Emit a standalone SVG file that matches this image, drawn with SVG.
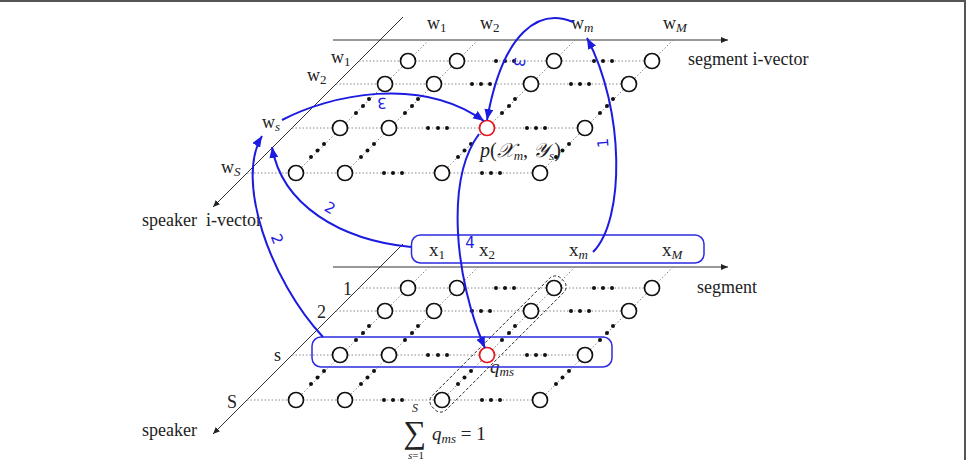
<svg xmlns="http://www.w3.org/2000/svg" xmlns:xlink="http://www.w3.org/1999/xlink" width="966" height="460" viewBox="0 0 966 460">
<style>
.ax{stroke:#333;stroke-width:1;fill:none}
.dl{stroke:#888;stroke-width:1;stroke-dasharray:1.5 2;fill:none}
.nd{fill:#fff;stroke:#111;stroke-width:1.7}
.rd{fill:#fff;stroke:#e8141c;stroke-width:1.7}
.dt{fill:#111}
.bl{stroke:#1c1ce0;stroke-width:2;fill:none;marker-end:url(#ba)}
.bx{stroke:#2b2be0;stroke-width:1.5;fill:none}
.lb{font-family:"Liberation Serif","DejaVu Serif",serif;font-size:18px;fill:#222}
.it{font-style:italic}
.bn{font-family:"DejaVu Sans",sans-serif;font-size:15px;fill:#1c1ce0}
</style>
<defs>
<marker id="ba" markerUnits="userSpaceOnUse" markerWidth="12" markerHeight="10" refX="11" refY="4.5" orient="auto"><path d="M0,0 L11,4.5 L0,9 z" fill="#1c1ce0"/></marker>
<marker id="ka" markerUnits="userSpaceOnUse" markerWidth="8" markerHeight="6" refX="7" refY="3" orient="auto"><path d="M0,0 L7,3 L0,6 z" fill="#222"/></marker>
<g id="grid">
<line class="ax" x1="333" y1="40" x2="728" y2="40" marker-end="url(#ka)"/>
<line class="ax" x1="403" y1="17" x2="213" y2="207" marker-end="url(#ka)"/>
<g class="dl">
<line x1="359" y1="61" x2="652" y2="61"/>
<line x1="336" y1="84" x2="629" y2="84"/>
<line x1="292" y1="128" x2="585" y2="128"/>
<line x1="247" y1="173" x2="540" y2="173"/>
<line x1="429" y1="40" x2="296" y2="173"/>
<line x1="478" y1="40" x2="345" y2="173"/>
<line x1="575" y1="40" x2="442" y2="173"/>
<line x1="673" y1="40" x2="540" y2="173"/>
</g>
<g class="dt">
<circle cx="496" cy="61" r="2"/><circle cx="505" cy="61" r="2"/><circle cx="514" cy="61" r="2"/>
<circle cx="594" cy="61" r="2"/><circle cx="603" cy="61" r="2"/><circle cx="612" cy="61" r="2"/>
<circle cx="472" cy="84" r="2"/><circle cx="481" cy="84" r="2"/><circle cx="490" cy="84" r="2"/>
<circle cx="571" cy="84" r="2"/><circle cx="580" cy="84" r="2"/><circle cx="589" cy="84" r="2"/>
<circle cx="428" cy="128" r="2"/><circle cx="438" cy="128" r="2"/><circle cx="447" cy="128" r="2"/>
<circle cx="527" cy="128" r="2"/><circle cx="536" cy="128" r="2"/><circle cx="545" cy="128" r="2"/>
<circle cx="384" cy="173" r="2"/><circle cx="393" cy="173" r="2"/><circle cx="402" cy="173" r="2"/>
<circle cx="482" cy="173" r="2"/><circle cx="491" cy="173" r="2"/><circle cx="500" cy="173" r="2"/>
<circle cx="369" cy="99" r="2"/><circle cx="363" cy="106" r="2"/><circle cx="356" cy="113" r="2"/>
<circle cx="418" cy="99" r="2"/><circle cx="412" cy="106" r="2"/><circle cx="405" cy="113" r="2"/>
<circle cx="515" cy="99" r="2"/><circle cx="509" cy="106" r="2"/><circle cx="502" cy="113" r="2"/>
<circle cx="613" cy="99" r="2"/><circle cx="607" cy="106" r="2"/><circle cx="600" cy="113" r="2"/>
<circle cx="324" cy="144" r="2"/><circle cx="317.5" cy="150.5" r="2"/><circle cx="311" cy="157" r="2"/>
<circle cx="374" cy="144" r="2"/><circle cx="367.5" cy="150.5" r="2"/><circle cx="361" cy="157" r="2"/>
<circle cx="471" cy="144" r="2"/><circle cx="464.5" cy="150.5" r="2"/><circle cx="458" cy="157" r="2"/>
<circle cx="569" cy="144" r="2"/><circle cx="562.5" cy="150.5" r="2"/><circle cx="556" cy="157" r="2"/>
</g>
<g>
<circle class="nd" cx="408" cy="61" r="7.5"/><circle class="nd" cx="457" cy="61" r="7.5"/><circle class="nd" cx="554" cy="61" r="7.5"/><circle class="nd" cx="652" cy="61" r="7.5"/>
<circle class="nd" cx="385" cy="84" r="7.5"/><circle class="nd" cx="434" cy="84" r="7.5"/><circle class="nd" cx="531" cy="84" r="7.5"/><circle class="nd" cx="629" cy="84" r="7.5"/>
<circle class="nd" cx="340" cy="128" r="7.5"/><circle class="nd" cx="389" cy="128" r="7.5"/><circle class="rd" cx="487" cy="128" r="7.5"/><circle class="nd" cx="585" cy="128" r="7.5"/>
<circle class="nd" cx="296" cy="173" r="7.5"/><circle class="nd" cx="345" cy="173" r="7.5"/><circle class="nd" cx="442" cy="173" r="7.5"/><circle class="nd" cx="540" cy="173" r="7.5"/>
</g>
</g>
</defs>

<line x1="0" y1="1" x2="966" y2="1" stroke="#555" stroke-width="2"/>
<line x1="965" y1="0" x2="965" y2="460" stroke="#555" stroke-width="2"/>

<g id="top-grid"><use xlink:href="#grid" href="#grid"/></g>
<g id="bottom-grid"><use xlink:href="#grid" href="#grid" y="227"/></g>

<g id="top-labels" class="lb">
<text x="427" y="29">w<tspan font-size="13" dy="3">1</tspan></text>
<text x="480" y="29">w<tspan font-size="13" dy="3">2</tspan></text>
<text x="571" y="29">w<tspan font-size="13" dy="3" class="it">m</tspan></text>
<text x="663" y="29">w<tspan font-size="13" dy="3" class="it">M</tspan></text>
<text x="331" y="63">w<tspan font-size="13" dy="3">1</tspan></text>
<text x="307" y="81">w<tspan font-size="13" dy="3">2</tspan></text>
<text x="262" y="128">w<tspan font-size="13" dy="3" class="it">s</tspan></text>
<text x="221" y="173">w<tspan font-size="13" dy="3" class="it">S</tspan></text>
<text x="688" y="65">segment i-vector</text>
<text x="142" y="226" xml:space="preserve">speaker  i-vector</text>
<text x="480" y="157" font-size="20"><tspan class="it">p</tspan>(<tspan class="it">𝒳</tspan><tspan font-size="13" dy="3" class="it">m</tspan><tspan dy="-3">, </tspan><tspan class="it">𝒴</tspan><tspan font-size="13" dy="3" class="it">s</tspan><tspan dy="-3">)</tspan></text>
</g>

<g id="bottom-labels" class="lb">
<text x="343" y="295">1</text>
<text x="317" y="318">2</text>
<text x="274" y="361">s</text>
<text x="227" y="408">S</text>
<text x="697" y="293">segment</text>
<text x="142" y="436">speaker</text>
<text x="429" y="256" font-size="19">x<tspan font-size="13" dy="3">1</tspan></text>
<text x="479" y="256" font-size="19">x<tspan font-size="13" dy="3">2</tspan></text>
<text x="569" y="256" font-size="19">x<tspan font-size="13" dy="3" class="it">m</tspan></text>
<text x="662" y="256" font-size="19">x<tspan font-size="13" dy="3" class="it">M</tspan></text>
<text x="490" y="373" font-size="19" class="it">q<tspan font-size="13" dy="3">ms</tspan></text>
<text x="415" y="443" font-size="32" text-anchor="middle">∑</text>
<text x="415" y="412" font-size="12" text-anchor="middle" class="it">S</text>
<text x="416" y="459" font-size="11" text-anchor="middle"><tspan class="it">s</tspan>=1</text>
<text x="432" y="440" font-size="19"><tspan class="it">q</tspan><tspan font-size="13" dy="3" class="it">ms</tspan><tspan dy="-3"> = 1</tspan></text>
</g>

<g id="box-x"><rect class="bx" x="411.5" y="235" width="292.5" height="28" rx="9"/></g>
<g id="box-s"><rect class="bx" x="312" y="337" width="300" height="30" rx="9"/></g>
<g id="box-qsum"><rect x="-91" y="-10" width="182" height="20" rx="8" fill="none" stroke="#222" stroke-width="0.9" stroke-dasharray="3 2" transform="translate(498,344) rotate(-45)"/></g>

<g id="connectors">
<path class="bl" d="M282,120 C330,95 420,75 484,121"/>
<path class="bl" d="M573,22 C540,8 503,30 487,120"/>
<path class="bl" d="M593,252 C625,220 625,110 587,38"/>
<path class="bl" d="M479,134 C445,180 455,280 485,348"/>
<path class="bl" d="M411,247 C340,240 282,205 272,147"/>
<path class="bl" d="M323,337 C270,280 235,180 262,136"/>
<g class="bn">
<text x="382" y="108" text-anchor="middle" transform="rotate(178 382 103)">3</text>
<text x="519" y="67" text-anchor="middle" transform="rotate(100 519 62)">3</text>
<text x="603" y="148" text-anchor="middle" transform="rotate(-95 603 143)">1</text>
<text x="470" y="248" text-anchor="middle">4</text>
<text x="330" y="213" text-anchor="middle" transform="rotate(30 330 208)">2</text>
<text x="277" y="244" text-anchor="middle" transform="rotate(68 277 239)">2</text>
</g>
</g>
</svg>
